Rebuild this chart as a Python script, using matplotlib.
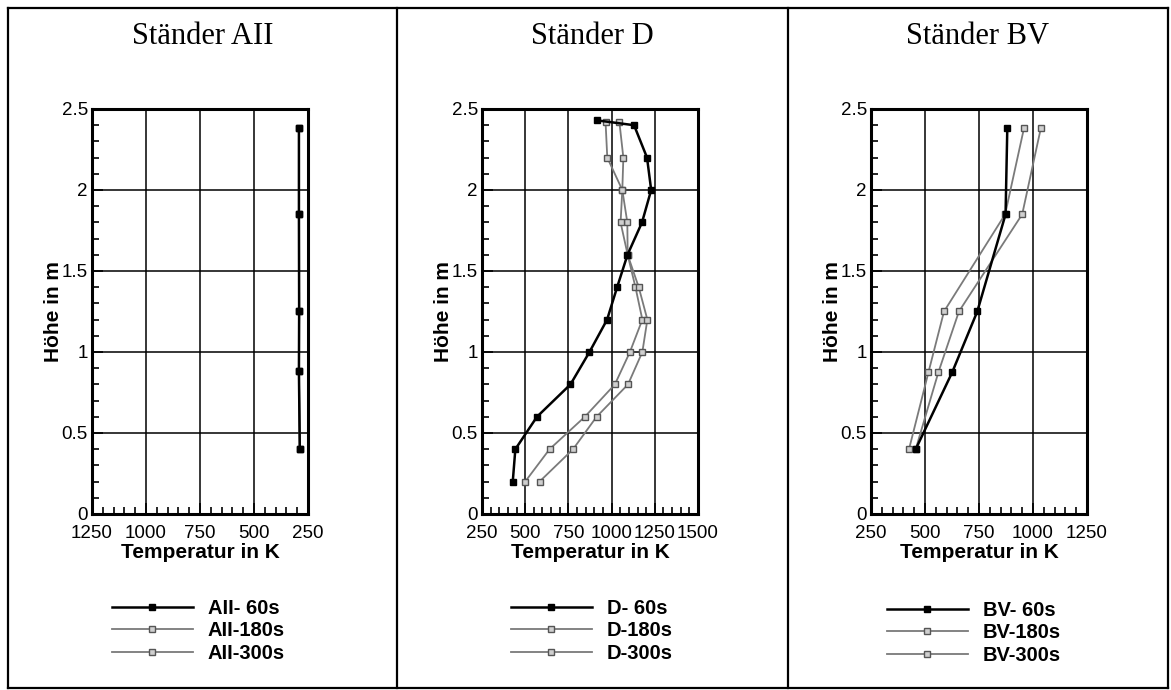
import matplotlib.pyplot as plt
from matplotlib.lines import Line2D
from matplotlib.ticker import MultipleLocator

W, H = 1171, 690

# --- data ---
# Ständer AII
aii_hoehe = [2.38, 1.85, 1.25, 0.88, 0.40]
aii_60 = [292, 292, 291, 292, 288]
aii_180 = [292, 292, 291, 292, 288]
aii_300 = [292, 292, 291, 292, 288]

# Ständer D
d_hoehe_60 = [2.43, 2.40, 2.2, 2.0, 1.8, 1.6, 1.4, 1.2, 1.0, 0.8, 0.6, 0.4, 0.2]
d_60 = [915, 1130, 1205, 1229, 1176, 1092, 1032, 974, 872, 762, 568, 443, 428]
d_hoehe = [2.42, 2.2, 2.0, 1.8, 1.6, 1.4, 1.2, 1.0, 0.8, 0.6, 0.4, 0.2]
d_180 = [1045, 1068, 1062, 1091, 1093, 1138, 1178, 1106, 1019, 845, 641, 500]
d_300 = [965, 975, 1062, 1052, 1093, 1157, 1207, 1178, 1095, 913, 777, 583]

# Ständer BV
bv_hoehe = [2.38, 1.85, 1.25, 0.875, 0.40]
bv_60 = [881, 873, 742, 626, 457]
bv_180 = [958, 871, 588, 516, 426]
bv_300 = [1036, 950, 657, 562, 457]

titles = ["Ständer AII", "Ständer D", "Ständer BV"]
xlims = [(1250, 250), (250, 1500), (250, 1250)]
legend_names = [["AII- 60s", "AII-180s", "AII-300s"],
                ["D- 60s", "D-180s", "D-300s"],
                ["BV- 60s", "BV-180s", "BV-300s"]]

# pixel layout
ax_left = [92, 482, 871]
ax_w, ax_top, ax_bot = 216, 109, 514
leg_pos = [(112, 599), (511, 599), (887, 601)]
frame_x = [8, 397, 788, 1168]
frame_y = [8, 688]

fig = plt.figure(figsize=(W / 100, H / 100), dpi=100)

black = dict(color="black", lw=1.8, marker="s", ms=5, mfc="black", mec="black")
grey = dict(color="#7a7a7a", lw=1.3, marker="s", ms=4.2, mfc="#cfcfcf", mec="#555555")

series = [
    [(aii_60, aii_hoehe), (aii_180, aii_hoehe), (aii_300, aii_hoehe)],
    [(d_60, d_hoehe_60), (d_180, d_hoehe), (d_300, d_hoehe)],
    [(bv_60, bv_hoehe), (bv_180, bv_hoehe), (bv_300, bv_hoehe)],
]

for i in range(3):
    ax = fig.add_axes([ax_left[i] / W, 1 - ax_bot / H, ax_w / W, (ax_bot - ax_top) / H])
    handles = []
    for j, (xs, ys) in enumerate(series[i]):
        style = black if j == 0 else grey
        h, = ax.plot(xs, ys, zorder=4 if j == 0 else 3, label=legend_names[i][j], **style)
        handles.append(h)

    ax.set_xlim(*xlims[i])
    ax.set_ylim(0, 2.5)
    ax.xaxis.set_major_locator(MultipleLocator(250))
    ax.xaxis.set_minor_locator(MultipleLocator(50))
    ax.yaxis.set_major_locator(MultipleLocator(0.5))
    ax.yaxis.set_minor_locator(MultipleLocator(0.1))
    ax.set_yticks([0, 0.5, 1, 1.5, 2, 2.5])
    ax.set_yticklabels(["0", "0.5", "1", "1.5", "2", "2.5"])
    ax.tick_params(which="both", direction="in", labelsize=13.5, width=1.2)
    ax.tick_params(which="major", length=8)
    ax.tick_params(which="minor", length=5)
    ax.tick_params(axis="x", pad=8)
    ax.tick_params(axis="y", pad=3)
    for lab in ax.get_xticklabels() + ax.get_yticklabels():
        lab.set_fontfamily("Liberation Sans")
    ax.grid(True, which="major", color="black", lw=1.1)
    for s in ax.spines.values():
        s.set_linewidth(2.2)

    ax.set_xlabel("Temperatur in K", fontsize=15, fontweight="bold",
                  family="Liberation Sans", labelpad=1)
    ax.set_ylabel("Höhe in m", fontsize=15, fontweight="bold",
                  family="Liberation Sans", labelpad=-1)

    cx = (frame_x[i] + frame_x[i + 1]) / 2
    fig.text(cx / W, 1 - 43.5 / H, titles[i], ha="center", va="baseline",
             fontsize=22, family="Liberation Serif")

    lx, ly = leg_pos[i]
    fig.legend(handles=handles, loc="upper left", bbox_to_anchor=(lx / W, 1 - ly / H),
               frameon=False, borderpad=0, borderaxespad=0, handlelength=4.0,
               handletextpad=0.75, labelspacing=0.17,
               prop=dict(family="Liberation Sans", weight="bold", size=14.5))

# panel frames
for x in frame_x:
    fig.add_artist(Line2D([x / W, x / W], [1 - frame_y[0] / H, 1 - frame_y[1] / H],
                          color="black", lw=1.6, transform=fig.transFigure))
for y in frame_y:
    fig.add_artist(Line2D([frame_x[0] / W, frame_x[-1] / W], [1 - y / H, 1 - y / H],
                          color="black", lw=1.6, transform=fig.transFigure))

fig.savefig("out.png", dpi=100)
